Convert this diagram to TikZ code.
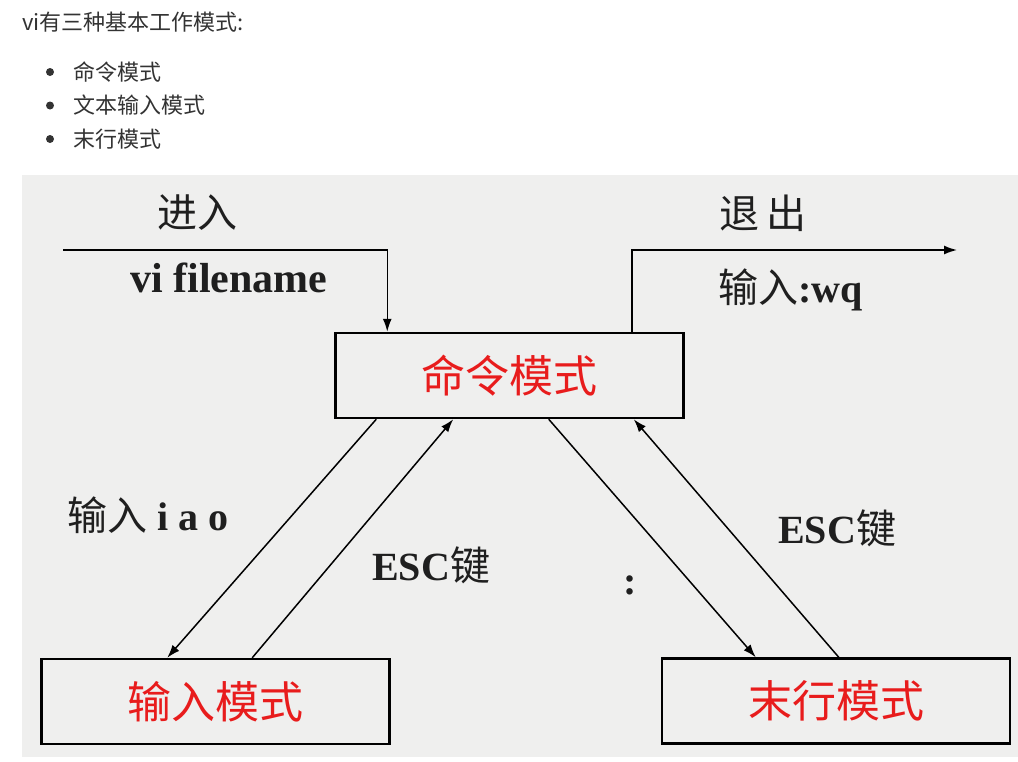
\documentclass[tikz,border=0pt]{standalone}
\usepackage{fontspec}
\setmainfont{Liberation Serif}
\newfontfamily\cjk{Noto Sans CJK SC}
\usetikzlibrary{positioning,arrows.meta}
\definecolor{panelgray}{RGB}{239,239,238}
\definecolor{modered}{RGB}{232,28,28}
\definecolor{inkgray}{RGB}{51,51,51}

\begin{document}
\begin{tikzpicture}[x=1pt,y=-1pt,
  modebox/.style={draw,line width=2.5pt,minimum width=348pt,minimum height=85pt,
    inner sep=0pt,text=modered,font=\cjk\fontsize{44}{44}\selectfont},
  lbl/.style={inner sep=0pt,text=black!88,font=\fontsize{40}{40}\selectfont},
  toptext/.style={inner sep=0pt,anchor=west,text=inkgray,font=\cjk\fontsize{22}{22}\selectfont},
  flow/.style={->,>={Latex[length=13pt,width=9pt]},line width=1.5pt}]
\useasboundingbox (0,0) rectangle (1018,761);
\fill[panelgray] (22,175) rectangle (1018,757);
% heading and list
\node[toptext] (title) at (22,22) {vi有三种基本工作模式:};
\foreach \txt [count=\i] in {命令模式,文本输入模式,末行模式} {
  \fill[inkgray] (50,38.5+33.5*\i) circle (4pt);
  \node[toptext] (item\i) at (73,38.5+33.5*\i) {\txt};
}
% the three modes
\node[modebox] (cmd) at (509.5,375.5) {命令模式};
\node[modebox] (ins) at (215.5,701.5) {输入模式};
\node[modebox] (last) at (836,701) {末行模式};
% enter and quit
\coordinate (enter) at (63,250);
\coordinate (quit) at (957,250);
\draw[flow] (enter) -| ([xshift=53pt]cmd.north west);
\draw[flow] ([xshift=-53pt]cmd.north east) |- (quit);
\node[lbl] (in) at (197,213) {\cjk 进入};
\node[lbl,anchor=west,font=\fontsize{42}{42}\selectfont] (vifile) at (130,278) {\bfseries vi filename};
\node[lbl] (out) at (763,213) {\cjk 退\,出};
\node[lbl,anchor=west] (wq) at (718,290) {{\cjk 输入}\textbf{:wq}};
% switching between modes
\draw[flow] ([xshift=42pt]cmd.south west) -- ([xshift=127pt]ins.north west);
\draw[flow] ([xshift=212pt]ins.north west) -- ([xshift=119pt]cmd.south west);
\draw[flow] ([xshift=-136pt]cmd.south east) -- ([xshift=95pt]last.north west);
\draw[flow] ([xshift=178pt]last.north west) -- ([xshift=-51pt]cmd.south east);
\node[lbl,anchor=west] (iao) at (67,515) {{\cjk 输入}\textbf{\ i\ a\ o}};
\node[lbl,anchor=west] (escl) at (372,565) {\textbf{ESC}{\cjk 键}};
\node[lbl,anchor=west] (escr) at (778,528) {\textbf{ESC}{\cjk 键}};
\node[lbl] (colon) at (630,585) {\textbf{:}};
\end{tikzpicture}
\end{document}
